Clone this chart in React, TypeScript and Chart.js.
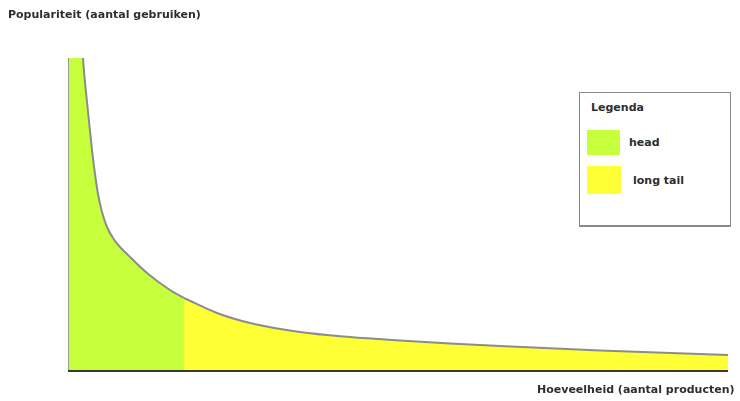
import React, { useEffect, useRef } from "react";
import { Chart, registerables } from "chart.js";

Chart.register(...registerables);

// Long-tail curve: x = amount of products, y = popularity
const headX = [0, 8, 12, 15, 19, 24, 27, 30, 34, 39, 45, 52, 59, 79, 102, 116];
const headY = [620, 460, 370, 312, 268, 220, 196, 176, 158, 143, 132, 123, 116, 97, 80, 72];
const tailX = [116, 149, 182, 232, 282, 332, 382, 432, 532, 660];
const tailY = [72, 57, 47, 38, 33, 29.5, 26.5, 24, 19.5, 15];

const yTitle = "Populariteit (aantal gebruiken)";
const xTitle = "Hoeveelheid (aantal producten)";
const legendTitle = "Legenda";
const seriesNames = ["head", "long tail"];
const seriesColors = ["#c6ff3c", "#ffff35"];

const axisPlugin = {
  id: "axisLines",
  afterDatasetsDraw(chart: any) {
    const { ctx, chartArea } = chart;
    ctx.save();
    ctx.strokeStyle = "#9a9a9a";
    ctx.lineWidth = 1;
    ctx.beginPath();
    ctx.moveTo(chartArea.left + 0.5, chartArea.top);
    ctx.lineTo(chartArea.left + 0.5, chartArea.bottom);
    ctx.stroke();
    ctx.strokeStyle = "#3a3a2a";
    ctx.lineWidth = 2;
    ctx.beginPath();
    ctx.moveTo(chartArea.left, chartArea.bottom + 1);
    ctx.lineTo(chartArea.right, chartArea.bottom + 1);
    ctx.stroke();
    ctx.restore();
  },
};

export default function App() {
  const ref = useRef<HTMLCanvasElement>(null);
  useEffect(() => {
    const canvas = ref.current;
    if (!canvas) return;
    const common = {
      borderColor: "#8c8c8c",
      borderWidth: 2,
      fill: "origin",
      pointRadius: 0,
      cubicInterpolationMode: "monotone",
    };
    const chart = new Chart(canvas, {
      type: "line",
      data: {
        datasets: [
          {
            ...common,
            label: seriesNames[0],
            data: headX.map((x, i) => ({ x, y: headY[i] })),
            backgroundColor: seriesColors[0],
          },
          {
            ...common,
            label: seriesNames[1],
            data: tailX.map((x, i) => ({ x, y: tailY[i] })),
            backgroundColor: seriesColors[1],
          },
        ] as any,
      },
      options: {
        animation: false,
        responsive: false,
        maintainAspectRatio: false,
        layout: { padding: { left: 68, right: 12, top: 58, bottom: 31 } },
        plugins: { legend: { display: false }, tooltip: { enabled: false } },
        scales: {
          x: { type: "linear", min: 0, max: 660, display: false },
          y: { type: "linear", min: 0, max: 312, display: false },
        },
      },
      plugins: [axisPlugin],
    });
    return () => chart.destroy();
  }, []);

  const font = "'DejaVu Sans', Verdana, sans-serif";
  return (
    <div
      style={{
        position: "absolute",
        left: 0,
        top: 0,
        width: 740,
        height: 401,
        background: "#fff",
        fontFamily: font,
        color: "#2e2e2e",
        overflow: "hidden",
      }}
    >
      <canvas ref={ref} width={740} height={401} style={{ position: "absolute", left: 0, top: 0 }} />
      <div style={{ position: "absolute", left: 8, top: 8, fontSize: 11, fontWeight: "bold", whiteSpace: "nowrap" }}>
        {yTitle}
      </div>
      <div style={{ position: "absolute", left: 537, top: 383, fontSize: 11, fontWeight: "bold", whiteSpace: "nowrap" }}>
        {xTitle}
      </div>
      <div
        style={{
          position: "absolute",
          left: 579,
          top: 92,
          width: 150,
          height: 132,
          border: "1px solid #8a8a8a",
          borderBottomWidth: 2,
          background: "#fff",
          fontSize: 11,
          fontWeight: "bold",
        }}
      >
        <div style={{ position: "absolute", left: 11, top: 8 }}>{legendTitle}</div>
        <div style={{ position: "absolute", left: 7, top: 37, width: 33, height: 25, background: seriesColors[0] }} />
        <div style={{ position: "absolute", left: 49, top: 43 }}>{seriesNames[0]}</div>
        <div style={{ position: "absolute", left: 7, top: 73, width: 34, height: 28, background: seriesColors[1] }} />
        <div style={{ position: "absolute", left: 53, top: 81 }}>{seriesNames[1]}</div>
      </div>
    </div>
  );
}
